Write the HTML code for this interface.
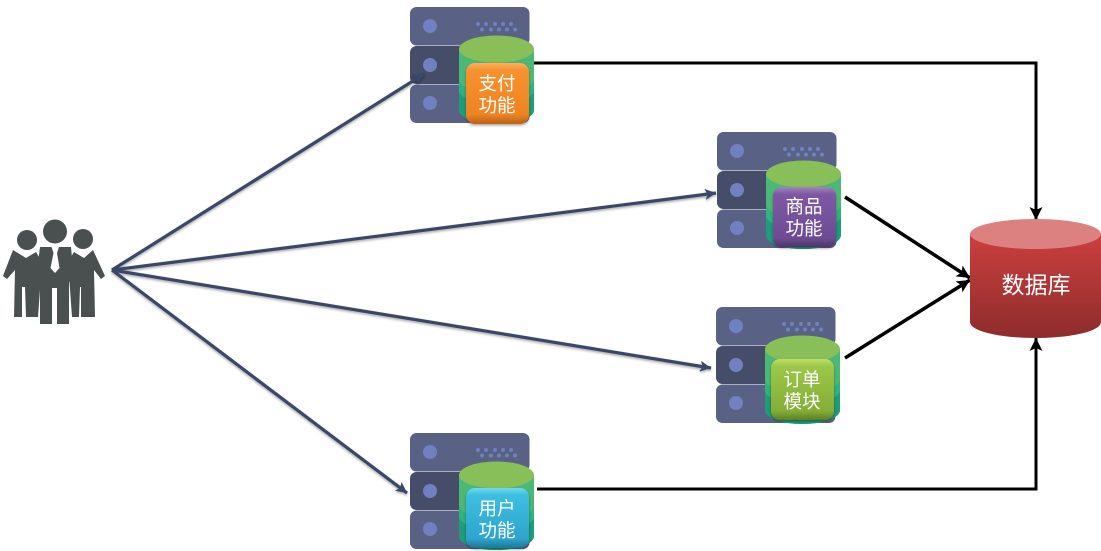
<!DOCTYPE html>
<html>
<head>
<meta charset="utf-8">
<style>
html,body{margin:0;padding:0;background:#fff;width:1101px;height:551px;overflow:hidden}
svg{display:block;filter:blur(.35px)}
text{font-family:"Liberation Sans","Noto Sans CJK SC",sans-serif;fill:#fff;text-anchor:middle}
</style>
</head>
<body>
<svg width="1101" height="551" viewBox="0 0 1101 551" xmlns="http://www.w3.org/2000/svg">
<defs>
<linearGradient id="db" x1="0" y1="0" x2="0" y2="1"><stop offset="0" stop-color="#cc3f3f"/><stop offset="1" stop-color="#8e2c2c"/></linearGradient>
<linearGradient id="or" x1="0" y1="0" x2="0" y2="1"><stop offset="0" stop-color="#fdae5a"/><stop offset=".12" stop-color="#f7922f"/><stop offset=".85" stop-color="#ee8322"/><stop offset="1" stop-color="#b9601a"/></linearGradient>
<linearGradient id="pu" x1="0" y1="0" x2="0" y2="1"><stop offset="0" stop-color="#a283c0"/><stop offset=".12" stop-color="#7e58a4"/><stop offset=".85" stop-color="#6f4c96"/><stop offset="1" stop-color="#4c3468"/></linearGradient>
<linearGradient id="gr" x1="0" y1="0" x2="0" y2="1"><stop offset="0" stop-color="#bfe06a"/><stop offset=".12" stop-color="#9cc748"/><stop offset=".85" stop-color="#86ad38"/><stop offset="1" stop-color="#5f7f26"/></linearGradient>
<linearGradient id="bl" x1="0" y1="0" x2="0" y2="1"><stop offset="0" stop-color="#6fd8f0"/><stop offset=".12" stop-color="#3dbfe0"/><stop offset=".85" stop-color="#2ea4cc"/><stop offset="1" stop-color="#1c7796"/></linearGradient>
<filter id="sh" x="-10%" y="-10%" width="120%" height="125%"><feDropShadow dx="0" dy="1.500" stdDeviation="1.200" flood-color="#000" flood-opacity=".35"/></filter>
<marker id="ab" markerUnits="userSpaceOnUse" markerWidth="15" markerHeight="14" refX="13" refY="6.500" orient="auto"><path d="M0 0L13 6.500L0 13L3 6.500Z" fill="#000"/></marker>
<marker id="ag" markerUnits="userSpaceOnUse" markerWidth="13" markerHeight="12" refX="11" refY="5.500" orient="auto"><path d="M0 0L11 5.500L0 11L2.500 5.500Z" fill="#3b4667"/></marker>
<g id="srv">
<rect x="0" y="0" width="119.500" height="38.500" rx="6.500" fill="#596284"/>
<rect x="0" y="39" width="119.500" height="38" rx="6.500" fill="#454d68"/>
<rect x="0" y="77.500" width="119.500" height="38.500" rx="6.500" fill="#596284"/>
<circle cx="20" cy="19" r="7" fill="#7080c0"/>
<circle cx="20" cy="58" r="7" fill="#7080c0"/>
<circle cx="20" cy="96" r="7" fill="#7080c0"/>
<g fill="#7080c0"><circle cx="68" cy="17" r="2"/><circle cx="76" cy="17" r="2"/><circle cx="85" cy="17" r="2"/><circle cx="93" cy="17" r="2"/><circle cx="101" cy="17" r="2"/><circle cx="72" cy="22.500" r="2"/><circle cx="81" cy="22.500" r="2"/><circle cx="89" cy="22.500" r="2"/><circle cx="97" cy="22.500" r="2"/><circle cx="105" cy="22.500" r="2"/></g>
<path d="M49 42V103C49 111 66 117 86 117C107 117 124 111 124 103V42Z" fill="#2fb27e"/>
<path d="M49 42V72C49 80 66 86 86 86C107 86 124 80 124 72V42Z" fill="#4cb878"/>
<path d="M49 85C52 92 68 97 86 97C105 97 121 92 124 85V103C124 111 107 117 86 117C66 117 49 111 49 103Z" fill="#1f9c78"/>
<ellipse cx="86.500" cy="42" rx="37.500" ry="13.500" fill="#88bf58"/>
</g>
</defs>

<!-- servers -->
<use href="#srv" x="410" y="7"/>
<use href="#srv" x="717" y="132"/>
<use href="#srv" x="716" y="307"/>
<use href="#srv" x="410" y="433"/>

<!-- connectors -->
<g fill="none" stroke="#3b4667" stroke-width="3.200" filter="url(#sh)">
<path d="M112 270L424 74" marker-end="url(#ag)"/>
<path d="M112 270L716 193" marker-end="url(#ag)"/>
<path d="M112 270L711 368" marker-end="url(#ag)"/>
<path d="M112 270L407 493" marker-end="url(#ag)"/>
</g>

<g filter="url(#sh)">
<rect x="466" y="63" width="63" height="61" rx="9" fill="url(#or)"/>
<rect x="773" y="187" width="63" height="60" rx="9" fill="url(#pu)"/>
<rect x="771" y="359" width="63" height="61" rx="9" fill="url(#gr)"/>
<rect x="466" y="488" width="63" height="60" rx="9" fill="url(#bl)"/>
</g>

<g font-size="18.500">
<text x="497" y="90">支付</text><text x="497" y="112">功能</text>
<text x="804" y="213">商品</text><text x="804" y="235">功能</text>
<text x="802" y="386">订单</text><text x="802" y="408">模块</text>
<text x="497" y="515">用户</text><text x="497" y="537">功能</text>
</g>

<!-- black connectors -->
<g fill="none" stroke="#000" stroke-width="3">
<path d="M534 63H1036V220" marker-end="url(#ab)"/>
<path d="M537 489H1036V338" marker-end="url(#ab)"/>
<path d="M845 197L970 278" marker-end="url(#ab)" stroke-width="3.500"/>
<path d="M845 358L970 280" marker-end="url(#ab)" stroke-width="3.500"/>
</g>

<!-- database -->
<path d="M970 234V322C970 331 999 338 1035.500 338C1072 338 1101 331 1101 322V234Z" fill="url(#db)"/>
<ellipse cx="1035.500" cy="234" rx="65.500" ry="15" fill="#dc8080"/>
<text x="1036" y="293" font-size="23">数据库</text>

<!-- people -->
<g fill="#4a5050">
<circle cx="27" cy="240" r="10"/>
<circle cx="83" cy="239" r="10"/>
<circle cx="55" cy="231.500" r="12"/>
<path d="M13 250L26 258L36 252L42 262L38 317H26L25 287H22L22 317H14L15 270L7 279L3 276Z"/>
<path d="M93 250L84 258L74 252L68 262L72 317H79L80 287H81L81 317H95L94 270L101 279L105 276Z"/>
<path d="M40 247H71L74 280L69 282V324H57V288H52V324H40V282L36 278Z"/>
<path d="M51.500 247H59L57 253L59.500 268L55 273L50.500 268L53.500 253Z" fill="#fff"/>
</g>
</svg>
</body>
</html>
